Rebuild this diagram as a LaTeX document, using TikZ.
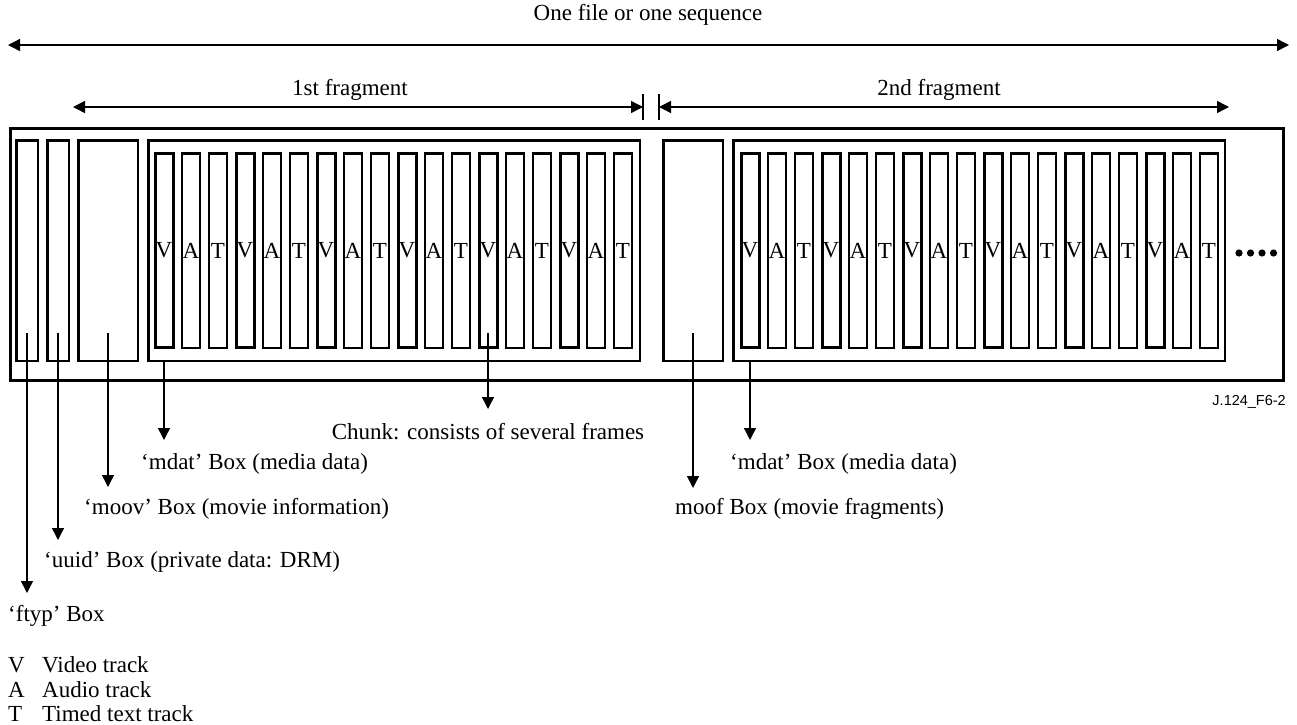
\documentclass[tikz,border=0pt]{standalone}
\usepackage{fontspec}
\setmainfont{Liberation Serif}
\newfontfamily\sansf{Liberation Sans}
\usetikzlibrary{arrows.meta}
\begin{document}
\begin{tikzpicture}[x=1pt,y=-1pt,
  txt/.style={inner sep=0pt,font=\fontsize{23}{27}\selectfont},
  boxb/.style={draw,line width=2.5pt,inner sep=0pt,minimum width=#1,minimum height=220.5pt},
  frm/.style={draw,line width=2.5pt,inner sep=0pt,minimum width=18pt,minimum height=194.5pt,font=\fontsize{23}{27}\selectfont},
  frmv/.style={frm,line width=3pt},
  arr/.style={line width=1.4pt,-{Triangle[length=12pt,width=12pt]}},
  darr/.style={line width=1.4pt,{Triangle[length=12pt,width=12pt]}-{Triangle[length=12pt,width=12pt]}},
  bar/.style={line width=1.6pt}]
\useasboundingbox (0,0) rectangle (1297,724);
% outer container
\node[draw,line width=3pt,inner sep=0pt,minimum width=1273pt,minimum height=252pt] (outer) at (647,254.5) {};
% boxes
\node[boxb=21.5pt] (ftyp) at (27,250.5) {};
\node[boxb=21.5pt] (uuid) at (58,250.5) {};
\node[boxb=59.5pt] (moov) at (108,250.5) {};
\node[boxb=491.5pt] (mdat1) at (394,250.5) {};
\node[boxb=59.5pt] (moof) at (693,250.5) {};
\node[boxb=491.5pt] (mdat2) at (979,250.5) {};
% frames
\foreach \i in {0,...,5}{
  \pgfmathsetmacro{\xa}{164+81*\i}
  \pgfmathsetmacro{\xb}{\xa+27}
  \pgfmathsetmacro{\xc}{\xa+54}
  \node[frmv] (fa-\i-v) at (\xa,250.5) {V};
  \node[frm] (fa-\i-a) at (\xb,250.5) {A};
  \node[frm] (fa-\i-t) at (\xc,250.5) {T};
  \pgfmathsetmacro{\ya}{750+81*\i}
  \pgfmathsetmacro{\yb}{\ya+27}
  \pgfmathsetmacro{\yc}{\ya+54}
  \node[frmv] (fb-\i-v) at (\ya,250.5) {V};
  \node[frm] (fb-\i-a) at (\yb,250.5) {A};
  \node[frm] (fb-\i-t) at (\yc,250.5) {T};
}
% dots
\foreach \k in {0,...,3}{
  \fill (1239+11.5*\k,253) circle (3.6pt);
}
% top arrows
\coordinate (seqL) at (8,45);
\coordinate (seqR) at (1289,45);
\draw[darr] (seqL) -- (seqR);
\node[txt,anchor=base] (seqlbl) at (648,20) {One file or one sequence};
\coordinate (f1L) at (73,107);
\coordinate (f1R) at (643,107);
\coordinate (f2L) at (659,107);
\coordinate (f2R) at (1229,107);
\draw[darr] (f1L) -- (f1R);
\draw[darr] (f2L) -- (f2R);
\draw[bar] (643,94) -- (643,120);
\draw[bar] (659,94) -- (659,120);
\node[txt,anchor=base] (f1lbl) at (350,95) {1st fragment};
\node[txt,anchor=base] (f2lbl) at (939,95) {2nd fragment};
% figure id
\node[inner sep=0pt,anchor=base east,font=\sansf\fontsize{14.5}{16}\selectfont] (fid) at (1286,405) {J.124\_F6-2};
% labels
\node[txt,anchor=base] (chunklbl) at (488,439) {Chunk: consists of several frames};
\node[txt,anchor=base west] (mdat1lbl) at (141,469) {‘mdat’ Box (media data)};
\node[txt,anchor=base west] (moovlbl) at (84,514) {‘moov’ Box (movie information)};
\node[txt,anchor=base west] (uuidlbl) at (44,567) {‘uuid’ Box (private data: DRM)};
\node[txt,anchor=base west] (ftyplbl) at (8,621) {‘ftyp’ Box};
\node[txt,anchor=base west] (mdat2lbl) at (730,469) {‘mdat’ Box (media data)};
\node[txt,anchor=base west] (mooflbl) at (675,514) {moof Box (movie fragments)};
% connectors
\coordinate (ftypS) at (27,333);
\coordinate (uuidS) at (58,333);
\coordinate (moovS) at (108,333);
\coordinate (chunkS) at (488,333);
\coordinate (moofS) at (693,333);
\draw[arr] (ftypS) -- (27,593);
\draw[arr] (uuidS) -- (58,540);
\draw[arr] (moovS) -- (108,487);
\draw[arr] (mdat1.south -| 164,0) -- (164,440);
\draw[arr] (chunkS) -- (chunklbl.north |- 0,409);
\draw[arr] (moofS) -- (693,488);
\draw[arr] (mdat2.south -| 750,0) -- (750,440);
% legend
\node[txt,anchor=base west] (legV) at (8,672) {V};
\node[txt,anchor=base west] (legVt) at (42,672) {Video track};
\node[txt,anchor=base west] (legA) at (8,697) {A};
\node[txt,anchor=base west] (legAt) at (42,697) {Audio track};
\node[txt,anchor=base west] (legT) at (8,721) {T};
\node[txt,anchor=base west] (legTt) at (42,721) {Timed text track};
\end{tikzpicture}
\end{document}
